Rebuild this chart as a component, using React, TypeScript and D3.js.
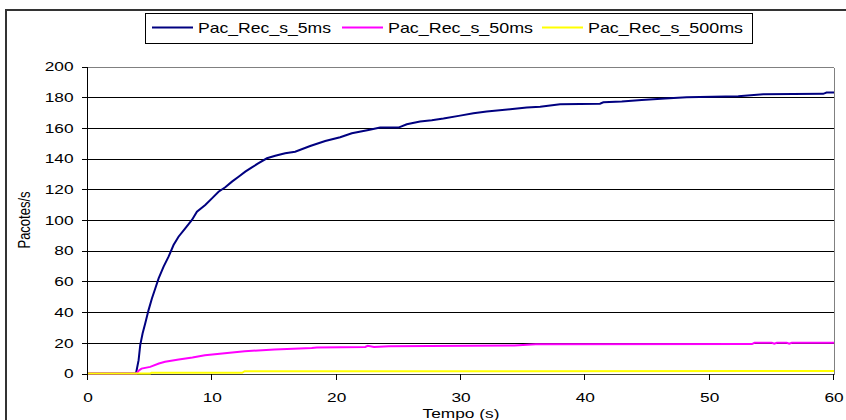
import React from "react";
import * as d3 from "d3";

const seriesNames = ["Pac_Rec_s_5ms", "Pac_Rec_s_50ms", "Pac_Rec_s_500ms"];
const seriesColors = ["#000080", "#FF00FF", "#FFFF00"];

const blue: [number, number][] = [
  [0, 0], [3.86, 0], [4.07, 8.7], [4.2, 18.5], [4.39, 26], [4.6, 32.6], [4.87, 41.3], [5.14, 48.9],
  [5.41, 55.4], [5.68, 62], [6.08, 69.6], [6.48, 76.1], [6.88, 83.7], [7.28, 89.1], [7.82, 94.6],
  [8.36, 100], [8.76, 105.4], [9.43, 109.8], [9.97, 114.1], [10.5, 118.4], [11.04, 121.3],
  [11.58, 125], [12.11, 128.2], [12.65, 131.5], [13.18, 134.3], [13.72, 137], [14.39, 140.2],
  [15.06, 141.9], [15.86, 143.5], [16.66, 144.5], [17.87, 148.2], [19.08, 151.5], [20.28, 153.9],
  [21.22, 156.5], [22.56, 158.7], [23.5, 160.2], [24.97, 160.2], [25.64, 162.4], [26.71, 164.1],
  [27.65, 165], [28.59, 166.1], [29.93, 168], [31, 169.6], [32.07, 170.7], [33.95, 172.2],
  [35.29, 173.3], [36.37, 173.8], [37.17, 174.6], [37.97, 175.4], [41.18, 175.8], [41.45, 176.7],
  [42.93, 177.2], [44.53, 178.2], [46.41, 179.1], [48.15, 180], [52.3, 180.6], [54.31, 182],
  [59.13, 182.2], [59.4, 183], [60, 183],
];

const magenta: [number, number][] = [
  [0, 0], [3.9, 0], [4.1, 2], [4.3, 3.2], [5.0, 4.3], [5.7, 6.5], [6.2, 7.6], [7.3, 9.1],
  [8.4, 10.4], [9.4, 11.9], [10.8, 13], [12.6, 14.5], [15, 15.6], [18, 16.6], [18.4, 17],
  [22.3, 17.3], [22.5, 18], [23, 17.3], [24.2, 17.8], [34.3, 18.2], [36, 19], [53.4, 19.2],
  [53.6, 20], [55, 20], [55.2, 19.4], [55.4, 20], [56.2, 20], [56.4, 19.4], [56.6, 20], [60, 20],
];

const yellow: [number, number][] = [
  [0, 0], [5, 0], [5.1, 0.5], [12.4, 0.5], [12.6, 1.5], [60, 1.6],
];

const xTicks = [0, 10, 20, 30, 40, 50, 60];
const yTicks = [0, 20, 40, 60, 80, 100, 120, 140, 160, 180, 200];
const legendTextWidths = [133, 145, 155];

const W = 846;
const H = 420;
const left = 88;
const right = 834;
const top = 66.5;
const bottom = 373.5;
const SX = 1.33;
const FONT = "'Liberation Sans', Arial, sans-serif";

export default function App() {
  const x = d3.scaleLinear().domain([0, 60]).range([left, right]);
  const y = d3.scaleLinear().domain([0, 200]).range([bottom, top]);
  const line = d3
    .line<[number, number]>()
    .x((d) => x(d[0]))
    .y((d) => y(d[1]))
    .curve(d3.curveLinear);

  const data = [blue, magenta, yellow];
  const widths = [2, 2, 2];

  const legendX = [152, 342, 542];

  return (
    <svg
      width={W}
      height={H}
      style={{ position: "absolute", left: 0, top: 0, background: "#fff" }}
      fontFamily={FONT}
    >
      <rect x={0} y={0} width={W} height={H} fill="#fff" />
      {/* outer frame */}
      <rect x={6} y={10} width={W + 20} height={H + 20} fill="none" stroke="#333" strokeWidth={2} />

      {/* gridlines */}
      {yTicks.map((t) => (
        <line
          key={"g" + t}
          x1={left}
          x2={right}
          y1={Math.round(y(t)) + 0.5}
          y2={Math.round(y(t)) + 0.5}
          stroke={t === 200 ? "#808080" : "#000"}
          strokeWidth={1}
          shapeRendering="crispEdges"
        />
      ))}
      {/* right border */}
      <line x1={right + 0.5} x2={right + 0.5} y1={Math.round(top) + 0.5} y2={Math.round(bottom) + 0.5} stroke="#808080" shapeRendering="crispEdges" />
      {/* y axis */}
      <line x1={left - 0.5} x2={left - 0.5} y1={Math.round(top)} y2={Math.round(bottom) + 1} stroke="#000" shapeRendering="crispEdges" />
      {yTicks.map((t) => (
        <line
          key={"yt" + t}
          x1={left - 6}
          x2={left}
          y1={Math.round(y(t)) + 0.5}
          y2={Math.round(y(t)) + 0.5}
          stroke="#000"
          shapeRendering="crispEdges"
        />
      ))}
      {yTicks.map((t) => (
        <text
          key={"yl" + t}
          transform={`translate(73.5,${y(t) + 4.7}) scale(${SX},1)`}
          textAnchor="end"
          fontSize={13}
          fill="#000"
        >
          {t}
        </text>
      ))}
      {/* x axis */}
      <line x1={left} x2={right} y1={Math.round(bottom) + 0.5} y2={Math.round(bottom) + 0.5} stroke="#404040" shapeRendering="crispEdges" />
      {xTicks.map((t) => (
        <line
          key={"xt" + t}
          x1={Math.round(x(t)) - 0.5}
          x2={Math.round(x(t)) - 0.5}
          y1={Math.round(bottom)}
          y2={Math.round(bottom) + 6}
          stroke="#000"
          shapeRendering="crispEdges"
        />
      ))}
      {xTicks.map((t) => (
        <text
          key={"xl" + t}
          transform={`translate(${x(t)},401.5) scale(${SX},1)`}
          textAnchor="middle"
          fontSize={13}
          fill="#000"
        >
          {t}
        </text>
      ))}

      {/* series */}
      {data.map((d, i) => (
        <path key={"s" + i} d={line(d) || ""} fill="none" stroke={seriesColors[i]} strokeWidth={widths[i]} />
      ))}

      {/* axis titles */}
      <text transform={`translate(461,417.5) scale(${SX},1)`} textAnchor="middle" fontSize={13} fill="#000">
        Tempo (s)
      </text>
      <text transform={`translate(30,220) scale(${SX},1) rotate(-90)`} textAnchor="middle" fontSize={13} fill="#000">
        Pacotes/s
      </text>

      {/* legend */}
      <rect x={145.5} y={13.5} width={607} height={30} fill="#fff" stroke="#000" strokeWidth={1} />
      {seriesNames.map((n, i) => (
        <g key={"lg" + i}>
          <line x1={legendX[i]} x2={legendX[i] + 41} y1={27.5} y2={27.5} stroke={seriesColors[i]} strokeWidth={2} />
          <text
            x={legendX[i] + 46}
            y={33}
            fontSize={15}
            fill="#000"
            textLength={legendTextWidths[i]}
            lengthAdjust="spacingAndGlyphs"
          >
            {n}
          </text>
        </g>
      ))}
    </svg>
  );
}
